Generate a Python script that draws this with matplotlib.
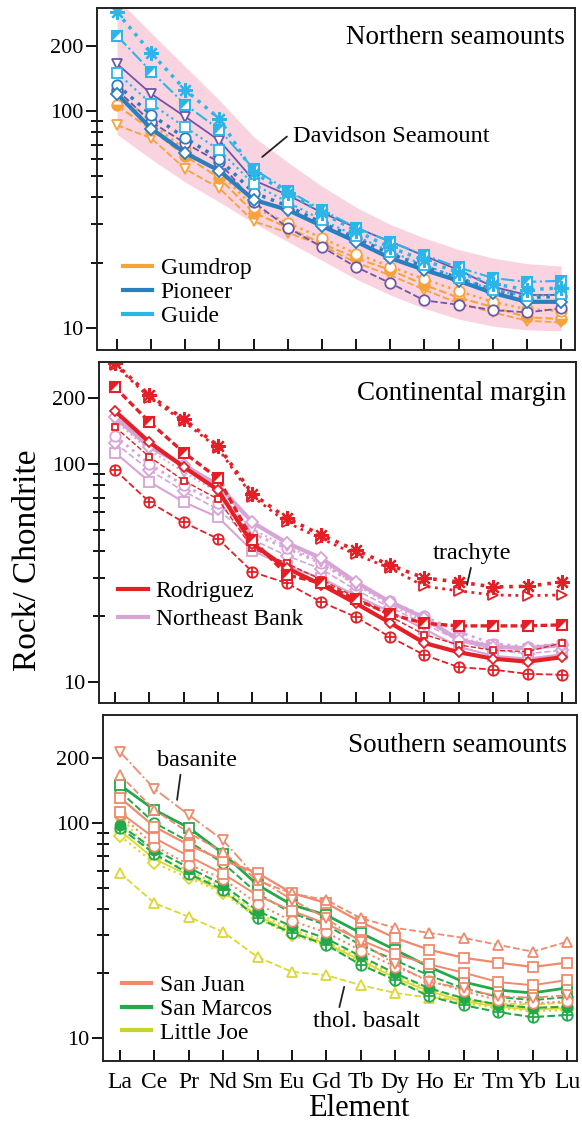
import matplotlib.pyplot as plt
import numpy as np
from matplotlib.lines import Line2D

plt.rcParams['font.family'] = ['Liberation Serif', 'DejaVu Serif']

elements = ['La', 'Ce', 'Pr', 'Nd', 'Sm', 'Eu', 'Gd', 'Tb', 'Dy', 'Ho', 'Er', 'Tm', 'Yb', 'Lu']

# Northern seamounts
davidson_high = [330, 229, 160, 112, 76, 58, 45, 36, 30, 26, 23, 21, 19.8, 19.3]
davidson_low = [78, 60, 47, 38, 30.5, 25, 20.5, 16.8, 14.2, 12.3, 11, 10.2, 9.8, 9.7]
guide_star = [285, 185, 125, 92, 52, 42, 34, 28, 23.5, 20.5, 18, 16, 15, 15.3]
guide_halfsq = [222, 152, 107, 82, 54, 43, 35, 29, 25, 21.7, 19, 17, 16.3, 16.5]
guide_sq = [150, 108, 84, 66, 46, 38, 31.5, 26.5, 22.5, 19.5, 17, 15, 14, 14.3]
pioneer_solid = [120, 83, 64, 53, 39, 35, 29.5, 25, 21, 18.5, 16.5, 14.5, 13.2, 13.2]
pioneer_dot = [132, 96, 75, 60, 42, 36.5, 30.5, 26, 22, 19.2, 17, 15, 13.8, 14]
purple_tri = [165, 120, 94, 73, 48, 41, 34, 29, 25, 21.5, 18.5, 15.5, 14.2, 14.2]
purple_circ = [125, 89, 71, 58, 38, 29, 23.6, 19.1, 16.1, 13.4, 12.8, 12.1, 11.8, 12.3]
gumdrop_tri = [86, 75, 54, 44, 31, 27.5, 24, 20, 17.5, 15, 13, 11.8, 10.8, 10.6]
gumdrop_half = [106, 82, 62, 49, 34, 29, 24.5, 21, 18.5, 15.8, 13.8, 12.5, 11.2, 11]
gumdrop_circ = [125, 88, 66, 52, 36, 30.5, 26, 22, 19.2, 16.8, 14.8, 13.2, 12.2, 12]

# Continental margin
rod_star = [290, 207, 161, 121, 73, 56.5, 47.3, 40.3, 34.4, 30, 28.8, 27.3, 27.5, 28.8]
rod_tri = [285, 202, 157, 118, 71, 54, 45.5, 38.5, 33.3, 27.5, 26.2, 25.1, 24.9, 25.1]
rod_halfsq = [225, 156, 113, 86, 45, 31, 28.5, 24, 20.5, 18.6, 18.1, 18.1, 18.1, 18.3]
rod_solid = [175, 126, 97, 76, 43, 33.3, 28, 23, 18.7, 15.1, 13.7, 12.8, 12.4, 13]
rod_oplus = [94, 67, 54, 45.4, 32, 28.4, 23.3, 19.9, 16.1, 13.3, 11.7, 11.4, 10.9, 10.8]
rod_dash = [148, 108, 84, 69, 41, 35, 29.5, 24.5, 20, 16.5, 14.8, 14, 13.8, 15.1]
neb_dia = [164, 120, 99, 80, 54, 43.5, 37, 28.8, 23.3, 19.7, 15.6, 14.5, 14.3, 14.8]
neb_sq = [113, 83, 67, 57, 40, 34, 30, 25, 21, 17.5, 14.5, 13.2, 12.8, 13.4]
neb_circ = [135, 100, 80, 66, 48, 41, 35, 28, 23.5, 20, 17, 15, 14.5, 15]
neb_dia2 = [125, 94, 75, 62, 45, 38, 33, 26.5, 22, 18.5, 15.5, 14, 13.5, 14]
neb_tri = [158, 116, 92, 74, 50, 42, 35.5, 28, 22.5, 19, 16, 14.8, 14.2, 14.6]

# Southern seamounts
sj_tri_down = [214, 144, 109, 83, 55, 44, 36, 28, 22, 18.2, 17, 15.6, 15.4, 15.8]
sj_tri_up = [167, 115, 90, 73, 54, 47, 43.8, 36.1, 32.5, 30.8, 29.2, 27.1, 25.2, 28]
sj_sq = [131, 96, 79, 67, 58.5, 47.2, 42.4, 34.6, 29.2, 25.7, 23.6, 22.4, 21.4, 22.4]
sj_sq2 = [112, 85, 70, 58, 46, 39, 34, 28.5, 24.5, 22, 20.1, 18.2, 17.6, 18.6]
sj_circ = [110, 78, 64, 55, 42, 35, 31, 25.5, 21.5, 18.5, 16.5, 15, 14.5, 14.8]
sm_sq = [150, 115, 95, 72, 51.5, 41.6, 37.3, 30.8, 25.7, 21.4, 18.2, 16.7, 16.2, 17.1]
sm_circ = [140, 100, 82, 65, 47, 38, 33.5, 27, 23, 19.5, 17, 15.5, 15, 15.5]
sm_fill = [98, 75, 62, 51.5, 39, 33, 29, 24, 20, 17, 15.3, 14.3, 13.8, 14]
sm_oplus = [95, 72, 58, 49, 36, 30.8, 27.1, 21.9, 18.6, 15.6, 14.2, 13.2, 12.5, 12.8]
lj_tri = [58.5, 42.4, 36.6, 31.1, 23.8, 20.3, 19.6, 17.6, 16.2, 15.4, 15, 14.5, 14.3, 14.6]
lj_dia = [87, 65, 55.5, 47.2, 36, 30, 27, 22.5, 18.5, 16, 14.5, 13.8, 13.3, 13.5]
lj_circ = [108, 70, 60, 50, 38, 32, 28, 23.5, 19.5, 16.8, 15.2, 14.3, 13.8, 14]
lj_solid = [92, 68, 57, 48, 37, 31, 27.5, 23, 19, 16.5, 14.8, 14, 13.5, 13.8]

GUMDROP = '#f5a33a'
PIONEER = '#2a7fc1'
GUIDE = '#2bb5e8'
PURPLE = '#6e56a8'
DAVIDSON = '#fad3e1'
RODRIGUEZ = '#e41f26'
NEBANK = '#d8a3d6'
SANJUAN = '#ef8a6c'
SANMARCOS = '#22a94a'
LITTLEJOE = '#c6d42a'
LJ_MARK = '#dcd830'

x = np.arange(len(elements))
HALF = [(-1, -1), (-1, 1), (1, 1)]   # upper-left triangle for half filled squares


def ree(ax, vals, color, marker, ls='-', lw=1.4, ms=7.5, mcolor=None):
    mc = mcolor or color
    if marker == 'halfsq':
        ax.plot(x, vals, ls=ls, lw=lw, color=color, marker='s', ms=ms,
                mfc='white', mec=mc, mew=1.5)
        ax.plot(x, vals, ls='none', marker=HALF, ms=ms, mfc=mc, mec=mc, mew=0)
    elif marker == 'oplus':
        ax.plot(x, vals, ls=ls, lw=lw, color=color, marker='o', ms=ms,
                mfc='white', mec=mc, mew=1.3)
        ax.plot(x, vals, ls='none', marker='+', ms=ms, mec=mc, mew=1.3)
    elif marker == 'star':
        ax.plot(x, vals, ls=ls, lw=lw, color=color, marker=(8, 2, 0), ms=ms + 3,
                mec=mc, mew=1.6)
    elif marker == 'half':
        ax.plot(x, vals, ls=ls, lw=lw, color=color, marker='o', ms=ms,
                fillstyle='bottom', mfc=mc, mfcalt='white', mec=mc, mew=1.3)
    elif marker == 'filled':
        ax.plot(x, vals, ls=ls, lw=lw, color=color, marker='o', ms=ms,
                mfc=mc, mec=mc)
    else:
        ax.plot(x, vals, ls=ls, lw=lw, color=color, marker=marker, ms=ms,
                mfc='white', mec=mc, mew=1.3)


def style_axis(ax, ylim, xlim, show_labels):
    ax.set_yscale('log')
    ax.set_ylim(*ylim)
    ax.set_xlim(*xlim)
    ax.set_yticks([10, 100, 200])
    ax.set_yticklabels(['10', '100', '200'], fontsize=16)
    ax.set_yticks([20, 30, 40, 50, 60, 70, 80, 90], minor=True)
    ax.yaxis.set_minor_formatter(plt.NullFormatter())
    ax.tick_params(axis='y', which='major', direction='out', length=8, width=1.3, pad=2)
    ax.tick_params(axis='y', which='minor', direction='inout', length=8, width=1.3)
    ax.set_xticks(x)
    ax.tick_params(axis='x', direction='in', length=8, width=1.3, pad=8)
    if show_labels:
        ax.set_xticklabels(elements, fontsize=17)
    else:
        ax.set_xticklabels([])
    for s in ax.spines.values():
        s.set_linewidth(1.4)
        s.set_color('#222222')


def add_legend(ax, names, colors, anchor, spacing):
    handles = [Line2D([], [], color=c, lw=3) for c in colors]
    ax.legend(handles, names, loc='upper left', bbox_to_anchor=anchor,
              frameon=False, fontsize=17, handlelength=1.25, handletextpad=0.35,
              labelspacing=spacing, borderpad=0, borderaxespad=0)


fig = plt.figure(figsize=(5.82, 11.22), dpi=100)
ax1 = fig.add_axes([0.1667, 0.6881, 0.8213, 0.3048])
ax2 = fig.add_axes([0.1701, 0.3734, 0.8196, 0.3039])
ax3 = fig.add_axes([0.1770, 0.0544, 0.8144, 0.3084])

# --- Northern seamounts ---
ax1.fill_between(x, davidson_low, davidson_high, color=DAVIDSON, lw=0, zorder=0)
ree(ax1, gumdrop_tri, GUMDROP, 'v', '--', 1.3)
ree(ax1, gumdrop_half, GUMDROP, 'half', '--', 1.5)
ree(ax1, gumdrop_circ, GUMDROP, 'o', ':', 1.8)
ree(ax1, purple_circ, PURPLE, 'o', '--', 1.3)
ree(ax1, purple_tri, PURPLE, 'v', '-', 1.3)
ree(ax1, pioneer_dot, PIONEER, 'o', ':', 2.5)
ree(ax1, pioneer_solid, PIONEER, 'D', '-', 3.0, ms=6)
ree(ax1, guide_sq, GUIDE, 's', ':', 1.6)
ree(ax1, guide_halfsq, GUIDE, 'halfsq', '-.', 1.5)
ree(ax1, guide_star, GUIDE, 'star', ':', 2.5)
ax1.text(0.979, 0.915, 'Northern seamounts', transform=ax1.transAxes,
         ha='right', va='center', fontsize=19.5)
ax1.annotate('Davidson Seamount', xy=(4.25, 61.4), xytext=(5.15, 76),
             ha='left', va='center', fontsize=17.5,
             arrowprops=dict(arrowstyle='-', lw=1.3, color='#222222',
                             relpos=(0, 0.75), shrinkA=3, shrinkB=0))
add_legend(ax1, ['Gumdrop', 'Pioneer', 'Guide'], [GUMDROP, PIONEER, GUIDE],
           (0.054, 0.27), 0.1)
style_axis(ax1, (7.92, 298.4), (-0.586, 13.41), False)

# --- Continental margin ---
ree(ax2, neb_sq, NEBANK, 's', '-', 1.5)
ree(ax2, neb_dia2, NEBANK, 'D', '--', 1.2, ms=6)
ree(ax2, neb_circ, NEBANK, 'o', ':', 2.0)
ree(ax2, neb_tri, NEBANK, 'v', ':', 1.4)
ree(ax2, neb_dia, NEBANK, 'D', '-', 3.0, ms=6)
ree(ax2, rod_oplus, RODRIGUEZ, 'oplus', '--', 1.3)
ree(ax2, rod_dash, RODRIGUEZ, 's', '--', 1.0, ms=5)
ree(ax2, rod_solid, RODRIGUEZ, 'D', '-', 3.0, ms=5)
ree(ax2, rod_halfsq, RODRIGUEZ, 'halfsq', (0, (2, 1)), 2.4)
ree(ax2, rod_tri, RODRIGUEZ, '>', ':', 2.0)
ree(ax2, rod_star, RODRIGUEZ, 'star', ':', 2.6)
ax2.text(0.979, 0.909, 'Continental margin', transform=ax2.transAxes,
         ha='right', va='center', fontsize=19.5)
ax2.annotate('trachyte', xy=(10.24, 27.9), xytext=(10.38, 39),
             ha='center', va='center', fontsize=17.5,
             arrowprops=dict(arrowstyle='-', lw=1.3, color='#222222',
                             relpos=(0.5, 0), shrinkA=1, shrinkB=0))
add_legend(ax2, ['Rodriguez', 'Northeast Bank'], [RODRIGUEZ, NEBANK],
           (0.04, 0.36), 0.3)
style_axis(ax2, (8.01, 293.8), (-0.465, 13.41), False)

# --- Southern seamounts ---
ree(ax3, lj_solid, LJ_MARK, 'o', '-', 1.3)
ree(ax3, lj_circ, LJ_MARK, 'o', ':', 1.6)
ree(ax3, lj_dia, LJ_MARK, 'D', ':', 1.6, ms=6)
ree(ax3, lj_tri, LJ_MARK, '^', '--', 1.3)
ree(ax3, sm_oplus, SANMARCOS, 'oplus', '--', 1.5)
ree(ax3, sm_fill, SANMARCOS, 'filled', '--', 1.5)
ree(ax3, sm_circ, SANMARCOS, 'o', '--', 1.4)
ree(ax3, sm_sq, SANMARCOS, 's', '-', 2.0)
ree(ax3, sj_circ, SANJUAN, 'o', ':', 1.5)
ree(ax3, sj_sq2, SANJUAN, 's', '-', 1.4)
ree(ax3, sj_sq, SANJUAN, 's', '-', 1.6)
ree(ax3, sj_tri_up, SANJUAN, '^', '--', 1.3)
ree(ax3, sj_tri_down, SANJUAN, 'v', '-.', 1.3)
ax3.text(0.979, 0.913, 'Southern seamounts', transform=ax3.transAxes,
         ha='right', va='center', fontsize=19.5)
ax3.annotate('basanite', xy=(1.66, 128), xytext=(2.24, 196),
             ha='center', va='center', fontsize=17.5,
             arrowprops=dict(arrowstyle='-', lw=1.3, color='#222222',
                             relpos=(0.3, 0), shrinkA=1, shrinkB=0))
ax3.annotate('thol. basalt', xy=(6.52, 17.3), xytext=(7.16, 11.9),
             ha='center', va='center', fontsize=17.5,
             arrowprops=dict(arrowstyle='-', lw=1.3, color='#222222',
                             relpos=(0.24, 1), shrinkA=1, shrinkB=0))
add_legend(ax3, ['San Juan', 'San Marcos', 'Little Joe'],
           [SANJUAN, SANMARCOS, LITTLEJOE], (0.04, 0.25), 0.1)
style_axis(ax3, (7.82, 317.8), (-0.494, 13.29), True)

fig.text(0.048, 1 - 560 / 1122, 'Rock/ Chondrite', rotation=90,
         ha='center', va='center', fontsize=24)
fig.text(359 / 582, 1 - 1108 / 1122, 'Element', ha='center', va='center',
         fontsize=22)

fig.savefig('out.png', dpi=100)
